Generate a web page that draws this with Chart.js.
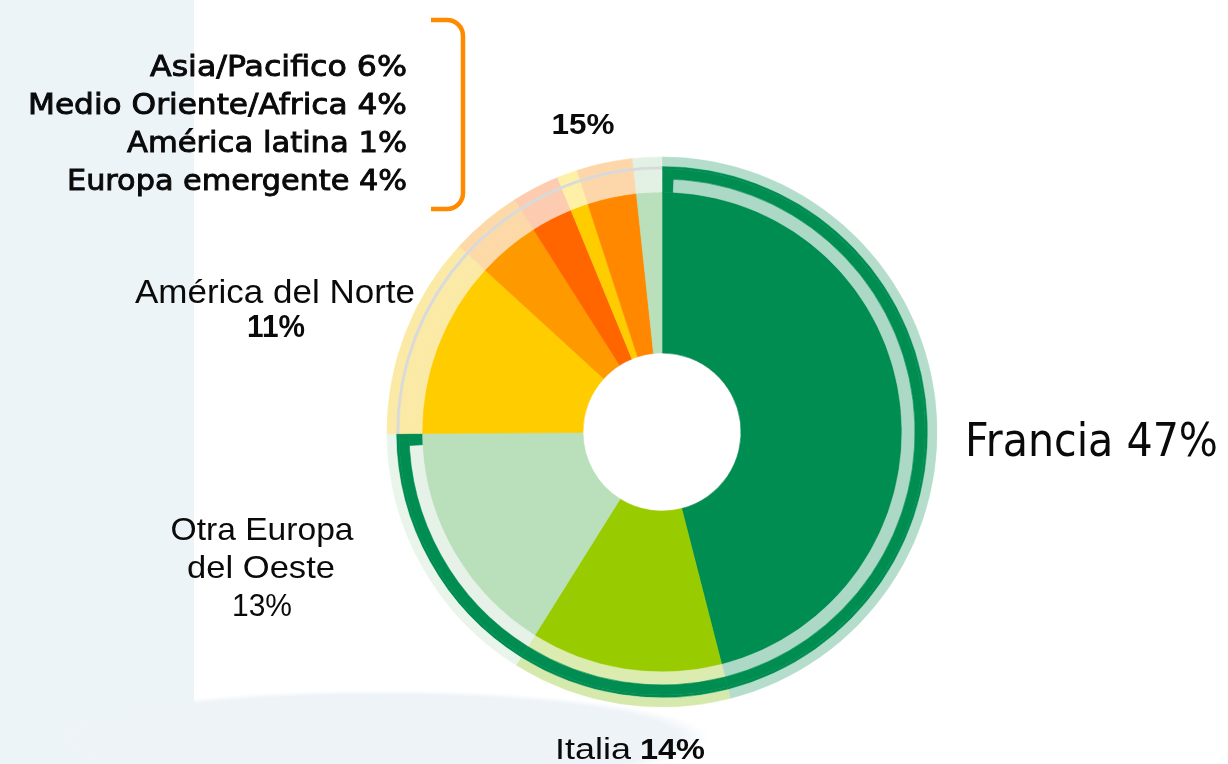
<!DOCTYPE html>
<html>
<head>
<meta charset="utf-8">
<script src="https://cdn.jsdelivr.net/npm/chart.js@4.4.1/dist/chart.umd.min.js"></script>
<style>
  html, body { margin: 0; padding: 0; }
  body {
    width: 1228px; height: 764px; overflow: hidden;
    background:
      radial-gradient(ellipse 330px 48px at 380px 738px, #eef3f8 0 90%, rgba(238,243,248,0) 100%),
      linear-gradient(to right, #edf4f8 0 194px, #ffffff 194px);
  }
  #wrap { position: relative; width: 1228px; height: 764px; }
</style>
</head>
<body>
<div id="wrap"><canvas id="chart"></canvas></div>
<script>
// slices clockwise from 12 o'clock
const sliceLabels = ['Francia', 'Italia', 'Otra Europa del Oeste', 'América del Norte',
  'Asia/Pacifico', 'Medio Oriente/Africa', 'América latina', 'Europa emergente', 'Otros'];
const sliceValues = [46.0, 12.9, 16.0, 11.9, 4.2, 2.8, 1.2, 3.3, 1.7];
const sliceColors = ['#008d52', '#99cc00', '#b9dfbb', '#ffcc00', '#ff9900', '#ff6600', '#ffcc00', '#ff8800', '#b9dfbb'];
const lightColors = ['#acd9c6', '#dcecb0', '#e6f2e7', '#fbe9a6', '#fdd9a8', '#fdcbb0', '#fff0a8', '#fdd6aa', '#e3f1e4'];
const faintColors = ['#b4ddcc', '#d6e9ac', '#e9f4ea'];
const europeCount = 3;          // first three slices sit under the green bracket
const capValue = 0.75;          // little end ticks of the green bracket

const GREEN = '#008d52';
const GREY_LINE = '#d9d9d9';

// text shown around the chart
const listFont = '28px "DejaVu Sans"';
const textLabels = [
  { text: 'Asia/Pacifico 6%', font: listFont, x: 407, y: 76, align: 'right', width: 257, stroke: 0.9 },
  { text: 'Medio Oriente/Africa 4%', font: listFont, x: 407, y: 114, align: 'right', width: 379, stroke: 0.9 },
  { text: 'América latina 1%', font: listFont, x: 407, y: 152, align: 'right', width: 280, stroke: 0.9 },
  { text: 'Europa emergente 4%', font: listFont, x: 407, y: 190, align: 'right', width: 340, stroke: 0.9 },
  { text: '15%', font: 'bold 30px "Liberation Sans"', x: 583, y: 134, align: 'center', width: 63 },
  { text: 'América del Norte', font: '34px "Liberation Sans"', x: 275, y: 303, align: 'center', width: 280 },
  { text: '11%', font: 'bold 31px "Liberation Sans"', x: 276, y: 337, align: 'center', width: 58 },
  { text: 'Francia 47%', font: '46px "DejaVu Sans"', x: 965, y: 456, align: 'left', width: 253 },
  { text: 'Otra Europa', font: '32px "Liberation Sans"', x: 262, y: 540, align: 'center', width: 183 },
  { text: 'del Oeste', font: '32px "Liberation Sans"', x: 261, y: 578, align: 'center', width: 148 },
  { text: '13%', font: '32px "Liberation Sans"', x: 262, y: 616, align: 'center', width: 60 },
  { text: 'Italia', font: '30px "Liberation Sans"', x: 555, y: 759, align: 'left', width: 76 },
  { text: '14%', font: 'bold 30px "Liberation Sans"', x: 640, y: 759, align: 'left', width: 65 }
];

// ring colour lists built from the slice lists
const outerFaint = sliceValues.map((v, i) => i < europeCount ? faintColors[i] : lightColors[i]);
const greyRing = sliceValues.map((v, i) => i < europeCount ? GREEN : GREY_LINE);
const bracketRing = sliceValues.map((v, i) => i < europeCount ? GREEN : lightColors[i]);

// inner light band, with the bracket's end ticks cut out of the first and last europe slice
const bandValues = [capValue, sliceValues[0] - capValue, sliceValues[1], sliceValues[2] - capValue, capValue]
  .concat(sliceValues.slice(europeCount));
const bandColors = [GREEN, lightColors[0], lightColors[1], lightColors[2], GREEN]
  .concat(lightColors.slice(europeCount));

function ring(data, colors, weight) {
  return {
    data: data,
    backgroundColor: colors,
    borderColor: colors,
    borderWidth: 0.6,
    weight: weight,
    hoverOffset: 0
  };
}

function drawLabel(ctx, l) {
  ctx.save();
  ctx.font = l.font;
  ctx.fillStyle = '#0a0a0a';
  ctx.strokeStyle = '#0a0a0a';
  ctx.textAlign = 'left';
  ctx.textBaseline = 'alphabetic';
  const w = ctx.measureText(l.text).width;
  const sx = l.width ? l.width / w : 1;
  let x0 = l.x;
  if (l.align === 'right') x0 = l.x - w * sx;
  if (l.align === 'center') x0 = l.x - w * sx / 2;
  ctx.translate(x0, l.y);
  ctx.scale(sx, 1);
  ctx.fillText(l.text, 0, 0);
  if (l.stroke) {
    ctx.lineWidth = l.stroke;
    ctx.strokeText(l.text, 0, 0);
  }
  ctx.restore();
}

const labelsPlugin = {
  id: 'labelsPlugin',
  afterDraw(chart) {
    const ctx = chart.ctx;
    textLabels.forEach(l => drawLabel(ctx, l));

    // orange bracket grouping the small regions
    ctx.save();
    ctx.strokeStyle = '#ff8a00';
    ctx.lineWidth = 4.5;
    ctx.beginPath();
    ctx.moveTo(431, 20);
    ctx.lineTo(447, 20);
    ctx.arcTo(463, 20, 463, 36, 16);
    ctx.lineTo(463, 193);
    ctx.arcTo(463, 209, 447, 209, 16);
    ctx.lineTo(431, 209);
    ctx.stroke();
    ctx.restore();
  }
};

new Chart(document.getElementById('chart'), {
  type: 'doughnut',
  data: {
    labels: sliceLabels,
    datasets: [
      ring(sliceValues, outerFaint, 9),
      ring(sliceValues, greyRing, 3),
      ring(sliceValues, bracketRing, 10),
      ring(bandValues, bandColors, 13),
      ring(sliceValues, sliceColors, 161)
    ]
  },
  options: {
    responsive: true,
    maintainAspectRatio: false,
    animation: false,
    radius: 275,
    cutout: '28.73%',
    layout: { padding: { left: 96, right: 0, top: 100, bottom: 0 } },
    plugins: {
      legend: { display: false },
      tooltip: { enabled: false }
    }
  },
  plugins: [labelsPlugin]
});
</script>
</body>
</html>
